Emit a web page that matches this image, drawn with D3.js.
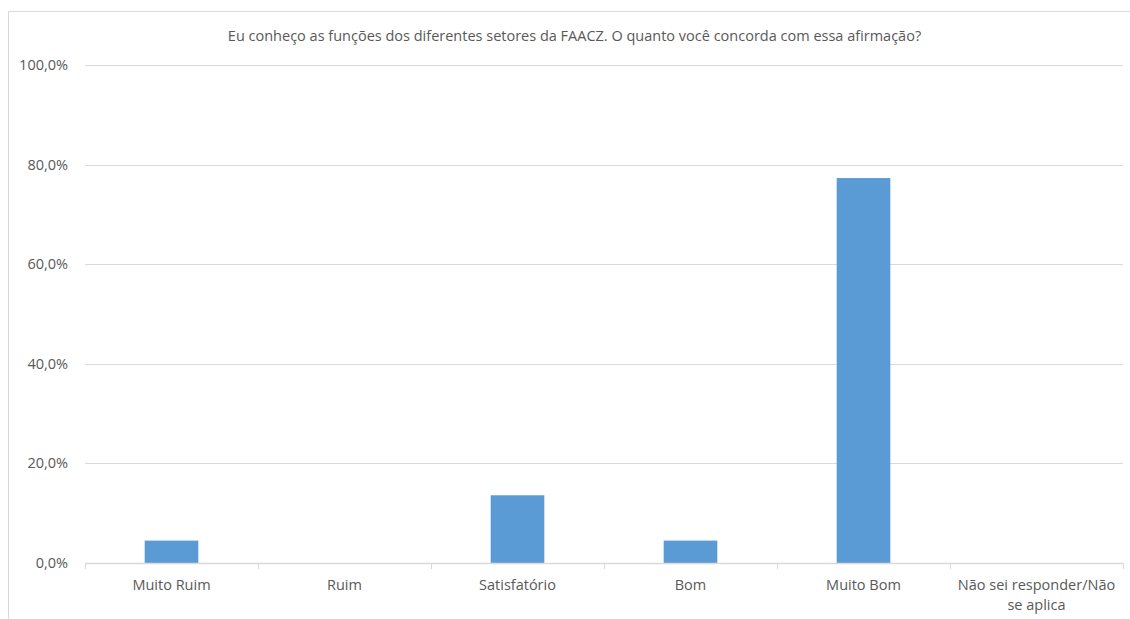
<!DOCTYPE html>
<html><head><meta charset="utf-8">
<script src="https://cdn.jsdelivr.net/npm/d3@7"></script>
<style>body{margin:0;background:#fff}svg{display:block}text{font-family:"Open Sans",sans-serif;fill:#595959}</style>
</head><body><div id="chart"></div>
<script>
const title = "Eu conheço as funções dos diferentes setores da FAACZ. O quanto você concorda com essa afirmação?";
const categories = ["Muito Ruim","Ruim","Satisfatório","Bom","Muito Bom","Não sei responder/Não se aplica"];
const values = [4.5, 0, 13.6, 4.5, 77.3, 0];
const yTicks = [0,20,40,60,80,100];

const W=1130,H=619,FS=14.5;
const m={left:85,right:1123,top:65,bottom:563};
const svg=d3.select("#chart").append("svg").attr("width",W).attr("height",H);
svg.append("rect").attr("x",8.5).attr("y",11.5).attr("width",1130).attr("height",700).attr("fill","#fff").attr("stroke","#d9d9d9");

const x=d3.scaleBand().domain(categories).range([m.left,m.right]).paddingInner(0.69).paddingOuter(0.345);
const xb=d3.scaleBand().domain(categories).range([m.left,m.right]);
const y=d3.scaleLinear().domain([0,100]).range([m.bottom,m.top]);

svg.append("text").attr("x",574.5).attr("y",41).attr("text-anchor","middle").attr("font-size",FS).text(title);

svg.append("g").selectAll("line").data(yTicks.filter(d=>d>0)).join("line")
 .attr("x1",m.left).attr("x2",m.right).attr("y1",d=>Math.round(y(d))+0.5).attr("y2",d=>Math.round(y(d))+0.5)
 .attr("stroke","#d9d9d9").attr("stroke-width",1);

svg.append("g").selectAll("text").data(yTicks).join("text")
 .attr("x",68).attr("y",d=>y(d)+5).attr("text-anchor","end").attr("font-size",FS)
 .text(d=>d.toFixed(1).replace(".",",")+"%");

svg.append("g").selectAll("rect").data(values).join("rect")
 .attr("x",(d,i)=>x(categories[i])).attr("width",x.bandwidth())
 .attr("y",d=>y(d)).attr("height",d=>y(0)-y(d)).attr("fill","#5b9bd5");

svg.append("line").attr("x1",m.left).attr("x2",m.right).attr("y1",m.bottom+0.5).attr("y2",m.bottom+0.5).attr("stroke","#d9d9d9").attr("stroke-width",1.5);
const bounds=categories.map(c=>xb(c)).concat([m.right]);
svg.append("g").selectAll("line").data(bounds).join("line")
 .attr("x1",d=>Math.round(d)+0.5).attr("x2",d=>Math.round(d)+0.5).attr("y1",m.bottom).attr("y2",m.bottom+6).attr("stroke","#d9d9d9");

const lab=svg.append("g").selectAll("text").data(categories).join("text")
 .attr("text-anchor","middle").attr("font-size",FS)
 .attr("x",c=>xb(c)+xb.bandwidth()/2).attr("y",590);
lab.each(function(c){
  const t=d3.select(this);
  if(c.length>20){
    const parts=["Não sei responder/Não","se aplica"];
    parts.forEach((p,i)=>t.append("tspan").attr("x",xb(c)+xb.bandwidth()/2).attr("dy",i?20:0).text(p));
  } else t.text(c);
});
</script></body></html>
